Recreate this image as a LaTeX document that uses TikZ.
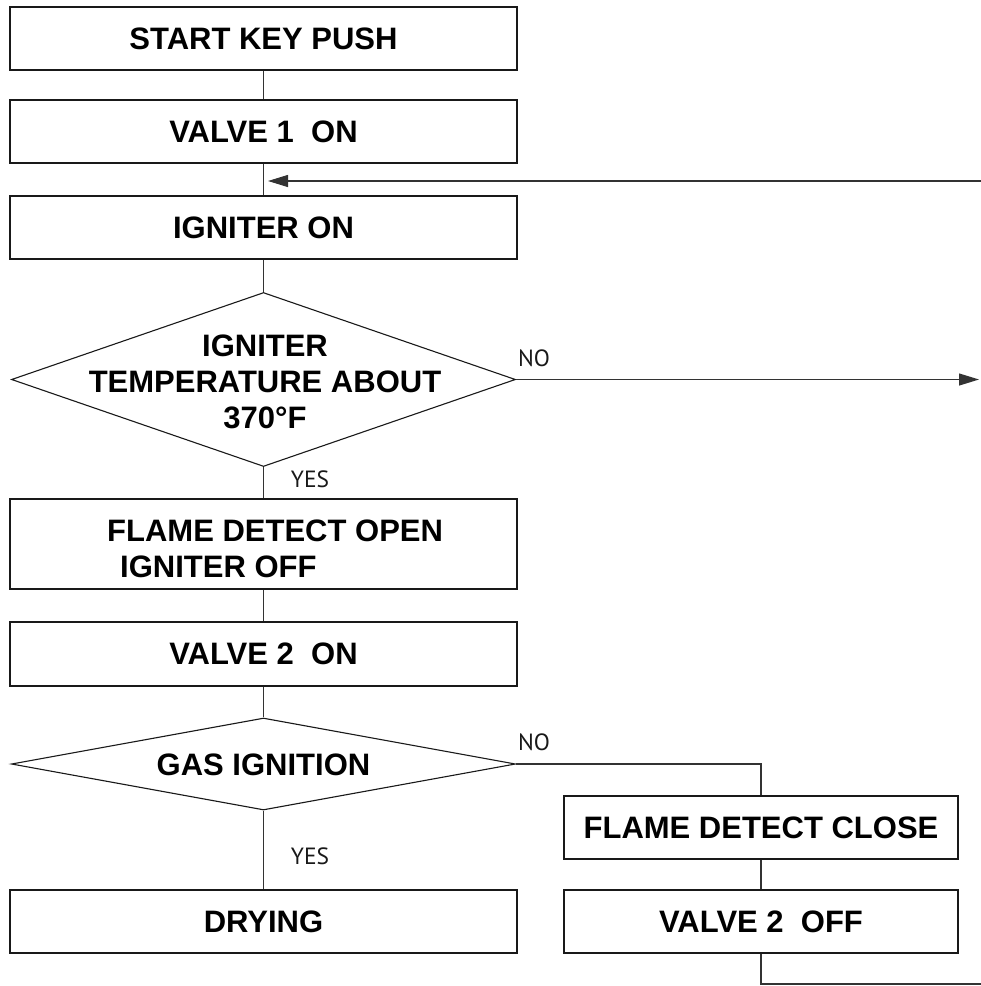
\documentclass[tikz,border=0pt]{standalone}
\usepackage{fontspec}
\setmainfont{Liberation Sans}
\newfontfamily\lblfont{PT Sans}
\usetikzlibrary{shapes.geometric,arrows.meta}
\begin{document}
\begin{tikzpicture}[x=1pt,y=-1pt,
  box/.style={draw=black!90, line width=1.3pt, rectangle, inner sep=0pt,
    minimum width=507pt, minimum height=63pt,
    font=\fontsize{31}{36}\selectfont\bfseries, align=center},
  dia/.style={draw=black!90, line width=1.1pt, diamond, inner sep=0pt,
    minimum width=504pt},
  txt/.style={inner sep=0pt, font=\fontsize{31}{36}\selectfont\bfseries, align=center},
  lbl/.style={inner sep=0pt, font=\lblfont\fontsize{23.5}{26}\selectfont, text=black!90},
  conn/.style={draw=black!80, line width=1.1pt},
  tip/.style={-{Triangle[length=20pt,width=12pt]}}
]
\useasboundingbox (0,0) rectangle (981,986);

\node[box] (b1) at (263.5,38.5) {START KEY PUSH};
\node[box] (b2) at (263.5,131.5) {VALVE 1\ \ ON};
\node[box] (b3) at (263.5,227.5) {IGNITER ON};
\node[dia, minimum height=174pt] (d1) at (263.5,379.5) {};
\node[txt] (t1) at (265,382) {IGNITER\\TEMPERATURE ABOUT\\370°F};
\node[box, minimum height=90pt] (b4) at (263.5,544) {};
\node[txt, anchor=west, align=left] (t4) at (107,548.5) {FLAME DETECT OPEN\\\hspace*{13pt}IGNITER OFF};
\node[box, minimum height=64pt] (b5) at (263.5,654) {VALVE 2\ \ ON};
\node[dia, minimum height=92pt] (d2) at (263.5,764) {};
\node[txt] (t2) at (263.5,765) {GAS IGNITION};
\node[box] (b8) at (263.5,921.5) {DRYING};
\node[box, minimum width=394pt] (b6) at (761,827.5) {FLAME DETECT CLOSE};
\node[box, minimum width=394pt] (b7) at (761,921.5) {VALVE 2\ \ OFF};

\node[lbl] (no1) at (534,358.5) {NO};
\node[lbl] (yes1) at (310,479.5) {YES};
\node[lbl] (no2) at (534,742.5) {NO};
\node[lbl] (yes2) at (310,856.5) {YES};

\coordinate (r1) at (981,181);
\coordinate (j1) at (268,181);
\coordinate (r2) at (979,379.5);
\coordinate (r3) at (981,984);

\draw[conn] (b1) -- (b2);
\draw[conn] (b2) -- (b3);
\draw[conn, tip] (r1) -- (j1);
\draw[conn] (b3) -- (d1);
\draw[conn, tip] (d1.east) -- (r2);
\draw[conn] (d1) -- (b4);
\draw[conn] (b4) -- (b5);
\draw[conn] (b5) -- (d2);
\draw[conn] (d2) -- (b8);
\draw[conn] (d2.east) -| (b6.north);
\draw[conn] (b6) -- (b7);
\draw[conn] (b7.south) |- (r3);
\end{tikzpicture}
\end{document}
